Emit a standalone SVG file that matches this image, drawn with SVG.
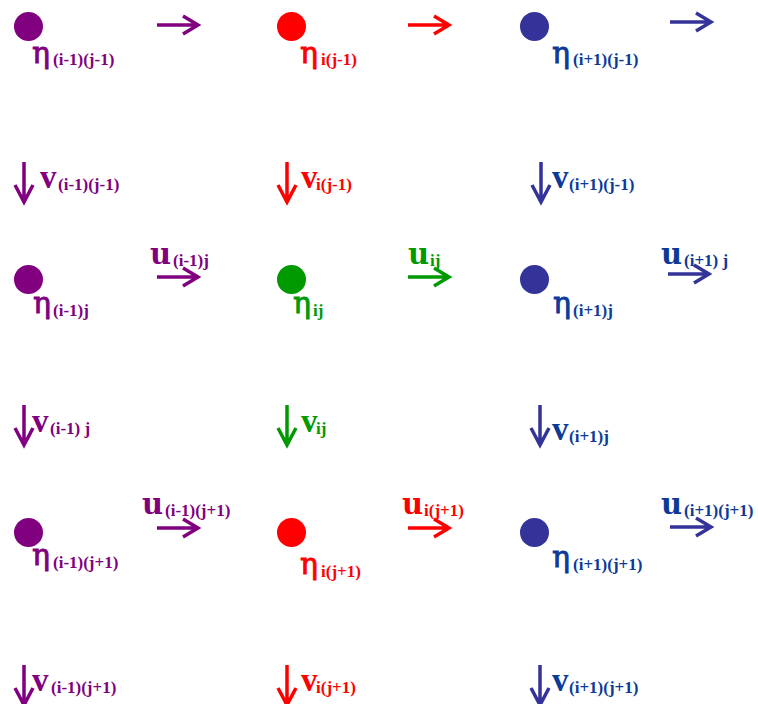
<svg xmlns="http://www.w3.org/2000/svg" width="758" height="704" viewBox="0 0 758 704">
  <style>
    text { font-family: "Liberation Serif", "DejaVu Serif", serif; }
    .sym { font-family: "DejaVu Serif", serif; font-size: 30px; stroke-width: 0.8px; }
    .uu { font-family: "DejaVu Serif", serif; font-size: 29px; font-weight: bold; }
    .vel { font-size: 33px; font-weight: bold; }
    .sub { font-size: 17px; font-weight: bold; }
    .arr { fill: none; stroke-width: 3.5; stroke-linecap: butt; stroke-linejoin: miter; }
    .purple { fill: #800080; }
    .red { fill: #ff0000; }
    .green { fill: #009900; }
    .blue { fill: #333399; }
    .bluetx { fill: #0d3a98; }
    .sym.purple { stroke: #800080; }
    .sym.red { stroke: #ff0000; }
    .sym.green { stroke: #009900; }
    .sym.bluetx { stroke: #0d3a98; }
    .s-purple { stroke: #800080; }
    .s-red { stroke: #ff0000; }
    .s-green { stroke: #009900; }
    .s-blue { stroke: #333399; }
  </style>
  <defs>
    <!-- open arrow pointing right, tip at origin -->
    <path id="ar" d="M-42,0 H-1 M-16,-9 L-1,0 L-16,9"/>
    <!-- open arrow pointing down, tip at origin -->
    <path id="ad" d="M0,-41 V-1 M-9,-18 L0,-1 L9,-18"/>
  </defs>

  <!-- grid points (eta) -->
  <g id="eta-im1-jm1">
    <circle class="purple" cx="28.5" cy="26.5" r="14.5"/>
    <text class="sym purple" x="32" y="63">η</text>
    <text class="sub purple" x="53" y="65">(i-1)(j-1)</text>
  </g>
  <g id="eta-i-jm1">
    <circle class="red" cx="291.5" cy="26.5" r="14.5"/>
    <text class="sym red" x="300" y="63">η</text>
    <text class="sub red" x="321" y="65">i(j-1)</text>
  </g>
  <g id="eta-ip1-jm1">
    <circle class="blue" cx="534.5" cy="26.5" r="14.5"/>
    <text class="sym bluetx" x="552" y="63">η</text>
    <text class="sub bluetx" x="573" y="65">(i+1)(j-1)</text>
  </g>

  <g id="eta-im1-j">
    <circle class="purple" cx="28.5" cy="279.5" r="14.5"/>
    <text class="sym purple" x="33" y="313">η</text>
    <text class="sub purple" x="53" y="316">(i-1)j</text>
  </g>
  <g id="eta-i-j">
    <circle class="green" cx="291.5" cy="279.5" r="14.5"/>
    <text class="sym green" x="293" y="313">η</text>
    <text class="sub green" x="313" y="316">ij</text>
  </g>
  <g id="eta-ip1-j">
    <circle class="blue" cx="534.5" cy="279.5" r="14.5"/>
    <text class="sym bluetx" x="553" y="313">η</text>
    <text class="sub bluetx" x="573" y="316">(i+1)j</text>
  </g>

  <g id="eta-im1-jp1">
    <circle class="purple" cx="28.5" cy="532.5" r="14.5"/>
    <text class="sym purple" x="32" y="565">η</text>
    <text class="sub purple" x="53" y="568">(i-1)(j+1)</text>
  </g>
  <g id="eta-i-jp1">
    <circle class="red" cx="291.5" cy="532.5" r="14.5"/>
    <text class="sym red" x="300" y="574">η</text>
    <text class="sub red" x="321" y="577">i(j+1)</text>
  </g>
  <g id="eta-ip1-jp1">
    <circle class="blue" cx="534.5" cy="532.5" r="14.5"/>
    <text class="sym bluetx" x="552" y="567">η</text>
    <text class="sub bluetx" x="573" y="570">(i+1)(j+1)</text>
  </g>

  <!-- velocity arrows -->
  <g id="connectors">
    <!-- u (horizontal) -->
    <use href="#ar" class="arr s-purple" x="199" y="25"/>
    <use href="#ar" class="arr s-red" x="450" y="25"/>
    <use href="#ar" class="arr s-blue" x="712" y="22"/>
    <use href="#ar" class="arr s-purple" x="199" y="277"/>
    <use href="#ar" class="arr s-green" x="450" y="277"/>
    <use href="#ar" class="arr s-blue" x="710" y="274"/>
    <use href="#ar" class="arr s-purple" x="199" y="528"/>
    <use href="#ar" class="arr s-red" x="450" y="528"/>
    <use href="#ar" class="arr s-blue" x="712" y="527"/>
    <!-- v (vertical) -->
    <use href="#ad" class="arr s-purple" x="24" y="203"/>
    <use href="#ad" class="arr s-red" x="287" y="203"/>
    <use href="#ad" class="arr s-blue" x="541" y="203"/>
    <use href="#ad" class="arr s-purple" x="24" y="446"/>
    <use href="#ad" class="arr s-green" x="287" y="446"/>
    <use href="#ad" class="arr s-blue" x="540" y="446"/>
    <use href="#ad" class="arr s-purple" x="24" y="706"/>
    <use href="#ad" class="arr s-red" x="287" y="706"/>
    <use href="#ad" class="arr s-blue" x="540" y="706"/>
  </g>

  <!-- velocity labels -->
  <g id="labels">
    <text class="uu purple" x="150" y="264">u</text>
    <text class="sub purple" x="173" y="266">(i-1)j</text>
    <text class="uu green" x="408" y="264">u</text>
    <text class="sub green" x="430" y="266">ij</text>
    <text class="uu bluetx" x="661" y="264">u</text>
    <text class="sub bluetx" x="684" y="266">(i+1) j</text>

    <text class="uu purple" x="142" y="514">u</text>
    <text class="sub purple" x="165" y="516">(i-1)(j+1)</text>
    <text class="uu red" x="402" y="514">u</text>
    <text class="sub red" x="424" y="516">i(j+1)</text>
    <text class="uu bluetx" x="661" y="514">u</text>
    <text class="sub bluetx" x="684" y="516">(i+1)(j+1)</text>

    <text class="vel purple" x="40" y="188">v</text>
    <text class="sub purple" x="58" y="190">(i-1)(j-1)</text>
    <text class="vel red" x="301" y="188">v</text>
    <text class="sub red" x="316" y="190">i(j-1)</text>
    <text class="vel bluetx" x="552" y="188">v</text>
    <text class="sub bluetx" x="569" y="190">(i+1)(j-1)</text>

    <text class="vel purple" x="32" y="432">v</text>
    <text class="sub purple" x="50" y="434">(i-1) j</text>
    <text class="vel green" x="301" y="432">v</text>
    <text class="sub green" x="316" y="434">ij</text>
    <text class="vel bluetx" x="552" y="440">v</text>
    <text class="sub bluetx" x="569" y="442">(i+1)j</text>

    <text class="vel purple" x="32" y="691">v</text>
    <text class="sub purple" x="51" y="693">(i-1)(j+1)</text>
    <text class="vel red" x="301" y="691">v</text>
    <text class="sub red" x="316" y="693">i(j+1)</text>
    <text class="vel bluetx" x="552" y="691">v</text>
    <text class="sub bluetx" x="569" y="693">(i+1)(j+1)</text>
  </g>
</svg>
